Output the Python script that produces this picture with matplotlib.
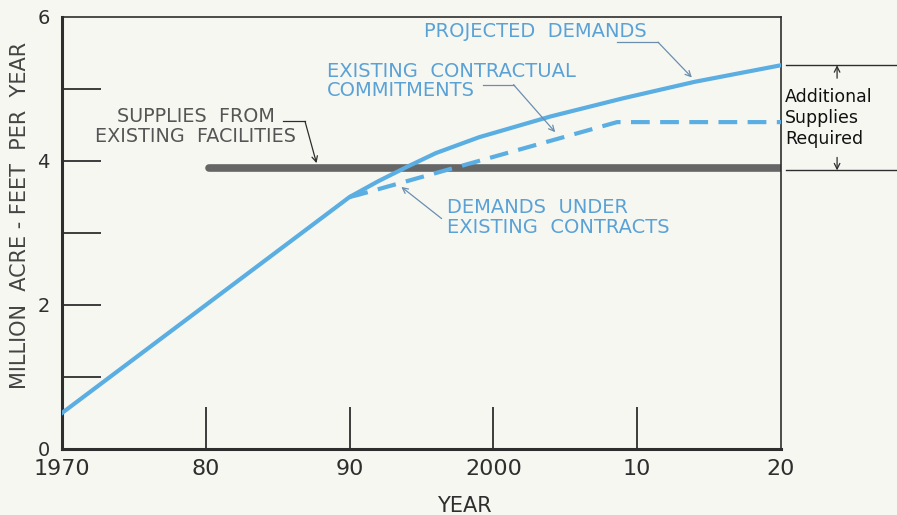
import matplotlib.pyplot as plt
import numpy as np

# values (million acre-feet per year)
proj_years = [1970, 1980, 1990, 1992, 1994, 1996, 1999, 2004, 2009, 2014, 2020]
proj_demand = [0.5, 2.0, 3.5, 3.72, 3.92, 4.11, 4.33, 4.62, 4.87, 5.1, 5.33]

contract_years = [1990, 1990.6, 2008.6, 2020]
contract_demand = [3.5, 3.53, 4.54, 4.54]

supply_years = [1980.2, 2020]
supply = [3.9, 3.9]

xticks = [1970, 1980, 1990, 2000, 2010, 2020]
xlabels = ['1970', '80', '90', '2000', '10', '20']

bg = '#f7f7f2'
blue = '#5aaee2'
txtblue = '#5aa2d6'
gray = '#666666'
dark = '#2e2e2e'

fig = plt.figure(figsize=(8.97, 5.15), dpi=100, facecolor=bg)
ax = fig.add_axes([62 / 897, (515 - 449) / 515, (781 - 62) / 897, (449 - 17) / 515])
ax.set_facecolor(bg)

ax.plot(supply_years, supply, color=gray, lw=5.5, solid_capstyle='round', zorder=2)
ax.plot(proj_years, proj_demand, color=blue, lw=3, zorder=3)
ax.plot(contract_years, contract_demand, color=blue, lw=3, dashes=(4.5, 2.5), zorder=3)

ax.set_xlim(1970, 2020)
ax.set_ylim(0, 6)
for s in ax.spines.values():
    s.set_color(dark)
    s.set_linewidth(1.2)
ax.spines['left'].set_linewidth(2.2)
ax.spines['bottom'].set_linewidth(2.2)

ax.set_xticks(xticks)
ax.set_xticklabels(xlabels)
ax.set_yticks([0, 2, 4, 6])
ax.set_yticks([1, 3, 5], minor=True)
ax.tick_params(axis='x', direction='in', length=30, width=1.3, color=dark,
               labelsize=16, labelcolor=dark, pad=7)
ax.tick_params(axis='y', which='both', direction='in', length=28, width=1.3,
               color=dark, labelsize=14, labelcolor=dark, pad=9)
ax.xaxis.get_major_ticks()[0].tick1line.set_visible(False)
ax.xaxis.get_major_ticks()[-1].tick1line.set_visible(False)
ax.yaxis.get_major_ticks()[0].tick1line.set_visible(False)
ax.yaxis.get_major_ticks()[-1].tick1line.set_visible(False)

ax.set_xlabel('YEAR', fontsize=15, color=dark)
ax.xaxis.set_label_coords(0.56, -0.108)
ax.set_ylabel('MILLION  ACRE - FEET  PER  YEAR', fontsize=15, color='#444444')
ax.yaxis.set_label_coords(-0.044, 0.54)

arrow = dict(arrowstyle='->', color='#6a8fae', lw=0.9, shrinkA=0, shrinkB=0)

# projected demands
ax.text(2002.9, 5.8, 'PROJECTED  DEMANDS', color=txtblue, fontsize=14, ha='center', va='center')
ax.plot([2008.6, 2011.45], [5.65, 5.65], color='#6a8fae', lw=0.9)
ax.annotate('', xy=(2013.8, 5.16), xytext=(2011.45, 5.65), arrowprops=arrow)

# existing contractual commitments
ax.text(1988.4, 5.11, 'EXISTING  CONTRACTUAL\nCOMMITMENTS', color=txtblue, fontsize=14,
        ha='left', va='center', linespacing=1.05)
ax.plot([1999.3, 2001.4], [5.06, 5.06], color='#6a8fae', lw=0.9)
ax.annotate('', xy=(2004.3, 4.4), xytext=(2001.4, 5.06), arrowprops=arrow)

# supplies from existing facilities
ax.text(1979.3, 4.48, 'SUPPLIES  FROM\nEXISTING  FACILITIES', color='#555555', fontsize=13.8,
        ha='center', va='center', linespacing=1.1)
ax.plot([1985.4, 1986.9], [4.55, 4.55], color=dark, lw=0.9)
ax.annotate('', xy=(1987.7, 3.97), xytext=(1986.9, 4.55),
            arrowprops=dict(arrowstyle='->', color=dark, lw=0.9, shrinkA=0, shrinkB=0))

# demands under existing contracts
ax.text(1996.8, 3.22, 'DEMANDS  UNDER\nEXISTING  CONTRACTS', color=txtblue, fontsize=14,
        ha='left', va='center', linespacing=1.05)
ax.annotate('', xy=(1993.6, 3.64), xytext=(1996.4, 3.2), arrowprops=arrow)

# additional supplies bracket on the right
ax.plot([2020.35, 2030], [proj_demand[-1]] * 2, color=dark, lw=1, clip_on=False)
ax.plot([2020.35, 2030], [supply[-1] - 0.03] * 2, color=dark, lw=1, clip_on=False)
ax.annotate('', xy=(2023.9, proj_demand[-1]), xytext=(2023.9, 5.15), annotation_clip=False,
            arrowprops=dict(arrowstyle='->', color=dark, lw=0.9, shrinkA=0, shrinkB=0))
ax.annotate('', xy=(2023.9, supply[-1] - 0.03), xytext=(2023.9, 4.05), annotation_clip=False,
            arrowprops=dict(arrowstyle='->', color=dark, lw=0.9, shrinkA=0, shrinkB=0))
ax.text(2020.3, 4.6, 'Additional\nSupplies\nRequired', color='#111111', fontsize=12.5,
        ha='left', va='center', linespacing=1.2)

fig.savefig('out.png', dpi=100, facecolor=bg)
